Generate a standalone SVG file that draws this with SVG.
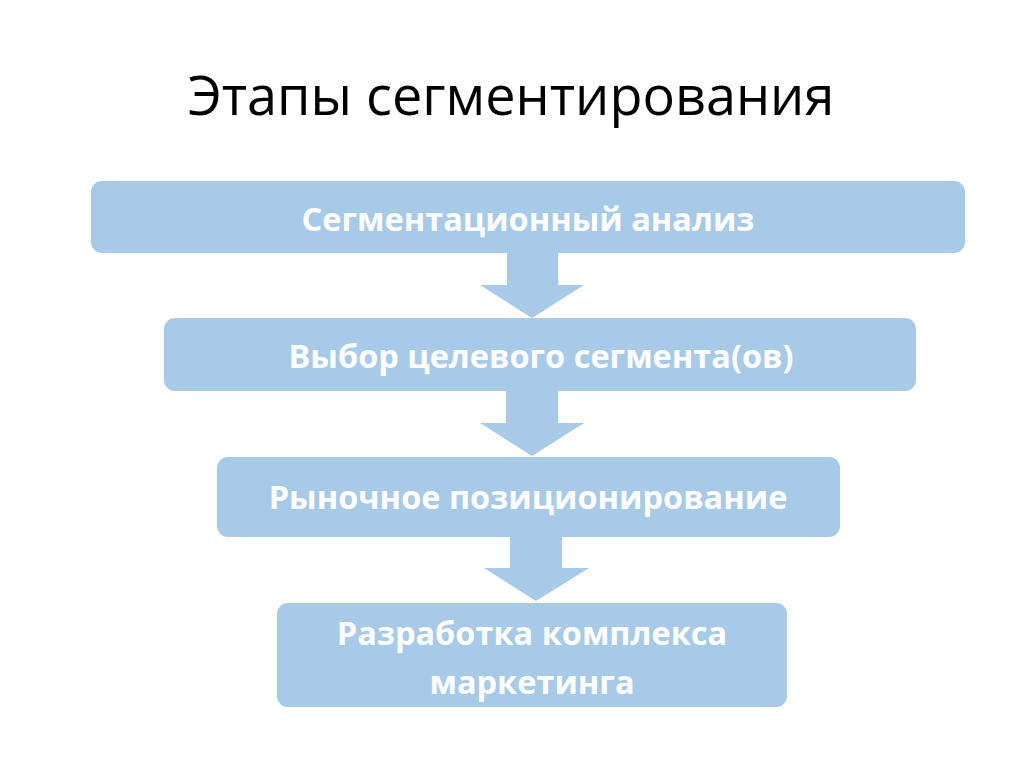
<svg xmlns="http://www.w3.org/2000/svg" width="1024" height="767" viewBox="0 0 1024 767">
<style>
.box{fill:#a6cae8}
.arr{fill:#a6cae8}
.t{font-family:"Open Sans","Liberation Sans",sans-serif;font-weight:bold;font-size:32.5px;fill:#ffffff;text-anchor:middle}
.title{font-family:"Open Sans","Liberation Sans",sans-serif;font-size:54px;fill:#000000;text-anchor:middle}
</style>
<rect width="1024" height="767" fill="#ffffff"/>
<text class="title" x="511" y="115">Этапы сегментирования</text>
<g id="connectors">
<polygon class="arr" points="507,252 558,252 558,285 584,285 532,318 480,285 507,285"/>
<polygon class="arr" points="506,390 558,390 558,423 584,423 532,456 480,423 506,423"/>
<polygon class="arr" points="510,536 562,536 562,568 589,568 536,601 484,568 510,568"/>
</g>
<g id="node1">
<rect class="box" x="91" y="181" width="874" height="72" rx="11"/>
<text class="t" x="528" y="231">Сегментационный анализ</text>
</g>
<g id="node2">
<rect class="box" x="164" y="318" width="752" height="73" rx="11"/>
<text class="t" x="541" y="368">Выбор целевого сегмента(ов)</text>
</g>
<g id="node3">
<rect class="box" x="217" y="457" width="623" height="80" rx="11"/>
<text class="t" x="528" y="509">Рыночное позиционирование</text>
</g>
<g id="node4">
<rect class="box" x="277" y="603" width="510" height="104" rx="11"/>
<text class="t" x="532" y="645">Разработка комплекса</text>
<text class="t" x="532" y="694">маркетинга</text>
</g>
</svg>
